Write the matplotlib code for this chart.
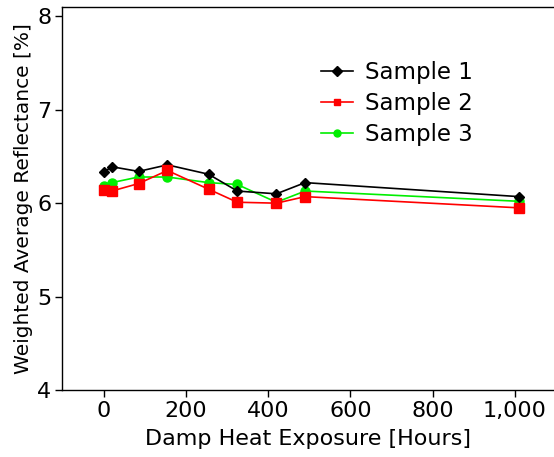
import matplotlib
matplotlib.use("Agg")
import matplotlib.pyplot as plt
from matplotlib.ticker import FuncFormatter

hours = [0, 20, 85, 155, 255, 325, 420, 490, 1010]
sample1 = [6.33, 6.39, 6.34, 6.41, 6.31, 6.13, 6.10, 6.22, 6.07]
sample2 = [6.14, 6.13, 6.21, 6.35, 6.15, 6.01, 6.00, 6.07, 5.95]
sample3 = [6.18, 6.22, 6.28, 6.28, 6.22, 6.20, 6.01, 6.13, 6.02]
labels = ["Sample 1", "Sample 2", "Sample 3"]

plt.rcParams['font.family'] = ['DejaVu Sans']
fig = plt.figure(figsize=(5.54, 4.57), dpi=100)
ax = fig.add_axes([62.5/554, 1 - 390/457, 1 - 62.5/554, (390 - 7)/457])

ax.plot(hours, sample1, color='black', marker='D', markersize=5.5, lw=1.2, label=labels[0], zorder=3)
ax.plot(hours, sample2, color='#ff0000', marker='s', markersize=7, lw=1.2, label=labels[1], zorder=4)
ax.plot(hours, sample3, color='#00ee00', marker='o', markersize=6.5, lw=1.2, label=labels[2], zorder=2)

ax.set_xlim(-100, 1095)
ax.set_ylim(4, 8.1)
ax.set_xticks([0, 200, 400, 600, 800, 1000])
ax.set_yticks([4, 5, 6, 7, 8])
ax.xaxis.set_major_formatter(FuncFormatter(lambda v, p: f"{int(v):,}"))
ax.spines['right'].set_visible(False)
for s in ['left', 'bottom', 'top']:
    ax.spines[s].set_linewidth(1.0)
ax.tick_params(direction='out', length=5, width=1, labelsize=16, pad=3, colors='black')
ax.set_xlabel("Damp Heat Exposure [Hours]", fontsize=16, labelpad=6)
ax.set_ylabel("Weighted Average Reflectance [%]", fontsize=14.5, labelpad=3)

leg = ax.legend(loc='upper left', bbox_to_anchor=(321/554, 1 - 61/457), bbox_transform=fig.transFigure,
                frameon=False, fontsize=16.5, handlelength=1.4, labelspacing=0.36,
                handletextpad=0.5, borderaxespad=0, borderpad=0)
for h in leg.legend_handles:
    h.set_markersize(5)

fig.savefig("out.png", dpi=100)
